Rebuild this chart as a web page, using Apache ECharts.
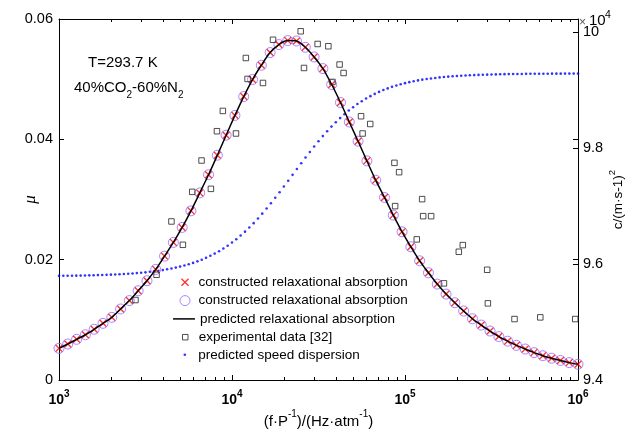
<!DOCTYPE html>
<html>
<head>
<meta charset="utf-8">
<script src="https://cdn.jsdelivr.net/npm/echarts@6/dist/echarts.min.js"></script>
<style>html,body{margin:0;padding:0;background:#fff}#c{width:627px;height:432px}</style>
</head>
<body>
<div id="c"></div>
<script>
// ---------- data ----------
const constructedFreq = [1000,1124,1264,1421,1597,1796,2019,2270,2551,2868,3225,3625,4075,4582,5151,5791,6510,7318,8227,9249,
  10398,11690,13141,14770,16607,18670,20990,23596,26528,29824,33528,37694,42376,47641,53558,60213,67692,76101,85552,96180,
  108130,121550,136650,153620,172710,194160,218280,245390,275860,310130,348650,391950,440640,495370,556910,626080,703850,791290,889560,1000000];
const constructedMu = [0.00526,0.00598,0.00676,0.00752,0.00843,0.00942,0.01041,0.01180,0.01320,0.01483,0.01650,0.01838,0.02059,0.02287,0.02536,0.02811,0.03110,0.03412,0.03736,0.04069,
  0.04398,0.04711,0.04994,0.05231,0.05442,0.05575,0.05641,0.05635,0.05530,0.05369,0.05176,0.04911,0.04612,0.04289,0.03969,0.03642,0.03321,0.03034,0.02740,0.02463,
  0.02214,0.01981,0.01782,0.01594,0.01428,0.01284,0.01146,0.01018,0.00913,0.00814,0.00722,0.00645,0.00576,0.00515,0.00455,0.00404,0.00362,0.00325,0.00289,0.00261];
const expFreq = [2767,3664,4467,5200,5888,7551,6668,8185,10544,8852,12023,12303,15101,17262,24946,26070,31261,36058,41879,44157,38106,55719,62951,56885,86896,92470,125603,87700,127350,141580,116950,204640,215780,298540,167880,301300,429540,605340,963830];
const expMu = [0.01329,0.01749,0.02635,0.02247,0.03127,0.03177,0.03648,0.04135,0.04097,0.04472,0.05352,0.05004,0.04937,0.05655,0.05796,0.05186,0.05585,0.05547,0.05243,0.05103,0.04954,0.04384,0.04255,0.04097,0.03609,0.03454,0.03006,0.02890,0.02723,0.02723,0.02337,0.02131,0.02242,0.01832,0.01606,0.01274,0.01013,0.01041,0.01013];
const dispersionFreq = [1000,1059,1122,1189,1259,1334,1413,1496,1585,1679,1778,1884,1995,2113,2239,2371,2512,2661,2818,2985,3162,3350,3548,3758,3981,4217,4467,4732,5012,5309,5623,5957,6310,6683,7079,7499,7943,8414,8913,9441,
  10000,10590,11220,11890,12590,13340,14130,14960,15850,16790,17780,18840,19950,21130,22390,23710,25120,26610,28180,29850,31620,33500,35480,37580,39810,42170,44670,47320,50120,53090,56230,59570,63100,66830,70790,74990,79430,84140,89130,94410,
  100000,105900,112200,118900,125900,133400,141300,149600,158500,167900,177800,188400,199500,211300,223900,237100,251200,266100,281800,298500,316200,335000,354800,375800,398100,421700,446700,473200,501200,530900,562300,595700,631000,668300,707900,749900,794300,841400,891300,944100,1000000];
const dispersionC2 = [9.5797,9.5798,9.5799,9.5800,9.5801,9.5802,9.5804,9.5806,9.5807,9.5810,9.5812,9.5815,9.5818,9.5821,9.5825,9.5829,9.5834,9.5839,9.5845,9.5851,
  9.5858,9.5867,9.5876,9.5886,9.5897,9.5910,9.5924,9.5940,9.5957,9.5976,9.5998,9.6021,9.6048,9.6076,9.6108,9.6143,9.6181,9.6223,9.6269,9.6318,
  9.6372,9.6430,9.6493,9.6560,9.6631,9.6707,9.6787,9.6871,9.6959,9.7050,9.7144,9.7240,9.7339,9.7439,9.7540,9.7641,9.7741,9.7840,9.7936,9.8030,
  9.8121,9.8209,9.8293,9.8373,9.8449,9.8520,9.8587,9.8650,9.8708,9.8762,9.8811,9.8857,9.8899,9.8937,9.8972,9.9004,9.9032,9.9059,9.9082,9.9104,
  9.9123,9.9140,9.9156,9.9170,9.9183,9.9194,9.9204,9.9213,9.9222,9.9229,9.9235,9.9241,9.9247,9.9251,9.9255,9.9259,9.9262,9.9265,9.9268,9.9270,
  9.9273,9.9274,9.9276,9.9278,9.9279,9.9280,9.9281,9.9282,9.9283,9.9284,9.9284,9.9285,9.9286,9.9286,9.9287,9.9287,9.9287,9.9288,9.9288,9.9288,9.9288];
const minorTickValues = [2000,3000,4000,5000,6000,7000,8000,9000,20000,30000,40000,50000,60000,70000,80000,90000,200000,300000,400000,500000,600000,700000,800000,900000];
const leftTicks = ['0','0.02','0.04','0.06'];
const rightTicks = ['9.4','9.6','9.8','10'];
const seriesNames = ['constructed relaxational absorption','constructed relaxational absorption ','predicted relaxational absorption','experimental data [32]','predicted speed dispersion'];

// ---------- chart ----------
const FF = "'Liberation Sans', Arial, sans-serif";
const zip = (a, b) => a.map((v, i) => [v, b[i]]);
const X_PATH = 'path://M0,1.2 L1.2,0 L5,3.8 L8.8,0 L10,1.2 L6.2,5 L10,8.8 L8.8,10 L5,6.2 L1.2,10 L0,8.8 L3.8,5 Z';
const SQ_PATH = 'path://M0,0 L10,0 L10,10 L0,10 Z';
const axisLineStyle = { color: '#000', width: 1 };
const chart = echarts.init(document.getElementById('c'), null, { renderer: 'canvas' });

const legendBase = (name, left, top, iw, ih, icon, extra) => Object.assign({
  data: [{ name: name, icon: icon }], left: left, top: top, orient: 'horizontal', padding: 0, itemGap: 0,
  itemWidth: iw, itemHeight: ih, selectedMode: false, symbolKeepAspect: true,
  textStyle: { fontSize: 13.5, fontFamily: FF, color: '#000', lineHeight: 16 }
}, extra || {});

const option = {
  animation: false,
  backgroundColor: '#fff',
  grid: { left: 59, right: 49, top: 19, bottom: 52, containLabel: false, outerBoundsMode: 'none' },
  xAxis: [
    { type: 'log', logBase: 10, min: 1000, max: 1000000, position: 'bottom',
      axisLine: { onZero: false, lineStyle: axisLineStyle },
      axisTick: { inside: true, length: 5, lineStyle: axisLineStyle },
      splitLine: { show: false },
      axisLabel: { margin: 9, formatter: v => '{b|10}{s|' + Math.round(Math.log10(v)) + '}',
        rich: { b: { fontSize: 14, fontWeight: 'bold', fontFamily: FF, color: '#000', lineHeight: 18, verticalAlign: 'bottom' },
                s: { fontSize: 10, fontWeight: 'bold', fontFamily: FF, color: '#000', lineHeight: 18, verticalAlign: 'top' } } },
      name: '{n|(f·P}{s|-1}{n|)/(Hz·atm}{s|-1}{n|)}', nameLocation: 'middle', nameGap: 29, nameMoveOverlap: false,
      nameTextStyle: { rich: { n: { fontSize: 15, fontFamily: FF, color: '#000', lineHeight: 20, verticalAlign: 'bottom' },
                               s: { fontSize: 10, fontFamily: FF, color: '#000', lineHeight: 20, verticalAlign: 'top' } } } },
    { type: 'log', logBase: 10, min: 1000, max: 1000000, position: 'top',
      axisLine: { onZero: false, lineStyle: axisLineStyle },
      axisTick: { inside: true, length: 5, lineStyle: axisLineStyle },
      axisLabel: { show: false }, splitLine: { show: false } },
    { type: 'value', min: 3, max: 6, position: 'bottom',
      axisLine: { show: false, onZero: false },
      axisTick: { inside: true, length: 3, lineStyle: axisLineStyle, customValues: minorTickValues.map(Math.log10) },
      axisLabel: { show: false }, splitLine: { show: false } },
    { type: 'value', min: 3, max: 6, position: 'top',
      axisLine: { show: false, onZero: false },
      axisTick: { inside: true, length: 3, lineStyle: axisLineStyle, customValues: minorTickValues.map(Math.log10) },
      axisLabel: { show: false }, splitLine: { show: false } }
  ],
  yAxis: [
    { type: 'value', min: 0, max: 0.06, interval: 0.02, position: 'left',
      axisLine: { show: true, onZero: false, lineStyle: axisLineStyle },
      axisTick: { show: true, inside: true, length: 5, lineStyle: axisLineStyle },
      splitLine: { show: false },
      axisLabel: { margin: 6, fontSize: 14.5, fontFamily: FF, color: '#000', formatter: v => leftTicks[Math.round(v / 0.02)] },
      name: 'μ', nameLocation: 'middle', nameGap: 20, nameRotate: 90, nameMoveOverlap: false,
      nameTextStyle: { fontSize: 17, fontStyle: 'italic', fontFamily: "'Liberation Serif', serif", color: '#000' } },
    { type: 'value', min: 9.4, max: 10.023, interval: 0.2, position: 'right',
      axisLine: { show: true, onZero: false, lineStyle: axisLineStyle },
      axisTick: { show: true, inside: true, length: 5, lineStyle: axisLineStyle },
      splitLine: { show: false },
      axisLabel: { margin: 5, fontSize: 14.5, fontFamily: FF, color: '#000', formatter: v => rightTicks[Math.round((v - 9.4) / 0.2)] },
      name: '{n|c/(m·s-1)}{s|2}', nameLocation: 'middle', nameGap: 29, nameRotate: 90, nameMoveOverlap: false,
      nameTextStyle: { rich: { n: { fontSize: 13.5, fontFamily: FF, color: '#000', lineHeight: 18, verticalAlign: 'bottom' },
                               s: { fontSize: 9.5, fontFamily: FF, color: '#000', lineHeight: 18, verticalAlign: 'top' } } } },
    { type: 'value', min: 0, max: 0.06, interval: 0.02, position: 'right',
      axisLine: { show: false, onZero: false },
      axisTick: { show: true, inside: true, length: 5, lineStyle: axisLineStyle },
      axisLabel: { show: false }, splitLine: { show: false } }
  ],
  legend: [
    legendBase(seriesNames[0], 181, 274.3, 17, 8, X_PATH),
    legendBase(seriesNames[1], 179.5, 292.6, 17, 10, 'circle', { itemStyle: { borderWidth: 1 } }),
    legendBase(seriesNames[2], 173, 310.9, 22, 1.5, 'rect'),
    legendBase(seriesNames[3], 182, 329.2, 17, 5.5, SQ_PATH, { itemStyle: { borderWidth: 1 } }),
    legendBase(seriesNames[4], 183.5, 346.8, 17, 2.6, 'circle')
  ],
  graphic: [
    { type: 'text', x: 88, y: 55, style: { text: 'T=293.7 K', fontSize: 15, fontFamily: FF, fill: '#000' } },
    { type: 'text', x: 74, y: 80, style: { text: '{n|40%CO}{s|2}{n|-60%N}{s|2}', verticalAlign: 'top',
        rich: { n: { fontSize: 15, fontFamily: FF, fill: '#000', lineHeight: 20, verticalAlign: 'top' },
                s: { fontSize: 10, fontFamily: FF, fill: '#000', lineHeight: 20, verticalAlign: 'bottom' } } } },
    { type: 'text', x: 579, y: 23, style: { text: '×', fontSize: 12, fontFamily: FF, fill: '#555', verticalAlign: 'middle' } },
    { type: 'text', x: 589, y: 20.5, style: { text: '10', fontSize: 15, fontFamily: FF, fill: '#000', verticalAlign: 'middle' } },
    { type: 'text', x: 605, y: 15, style: { text: '4', fontSize: 10.5, fontFamily: FF, fill: '#000', verticalAlign: 'middle' } }
  ],
  series: [
    { name: seriesNames[0], type: 'scatter', xAxisIndex: 0, yAxisIndex: 0, data: zip(constructedFreq, constructedMu),
      symbol: X_PATH, symbolSize: 8, symbolKeepAspect: true, itemStyle: { color: '#ff0000' }, z: 2 },
    { name: seriesNames[1], type: 'scatter', xAxisIndex: 0, yAxisIndex: 0, data: zip(constructedFreq, constructedMu),
      symbol: 'circle', symbolSize: 10, itemStyle: { color: 'rgba(0,0,0,0)', borderColor: '#9966ff', borderWidth: 1 }, z: 3 },
    { name: seriesNames[2], type: 'line', xAxisIndex: 0, yAxisIndex: 0, data: zip(constructedFreq, constructedMu),
      smooth: 0.3, symbol: 'none', lineStyle: { color: '#000', width: 1.5 }, itemStyle: { color: '#000' }, z: 4 },
    { name: seriesNames[3], type: 'scatter', xAxisIndex: 0, yAxisIndex: 0, data: zip(expFreq, expMu),
      symbol: SQ_PATH, symbolSize: 5.5, symbolKeepAspect: true, itemStyle: { color: 'rgba(0,0,0,0)', borderColor: '#222', borderWidth: 1 }, z: 5 },
    { name: seriesNames[4], type: 'scatter', xAxisIndex: 0, yAxisIndex: 1, data: zip(dispersionFreq, dispersionC2),
      symbol: 'circle', symbolSize: 2.6, itemStyle: { color: '#0000ff' }, z: 1 }
  ]
};
chart.setOption(option);
</script>
</body>
</html>
